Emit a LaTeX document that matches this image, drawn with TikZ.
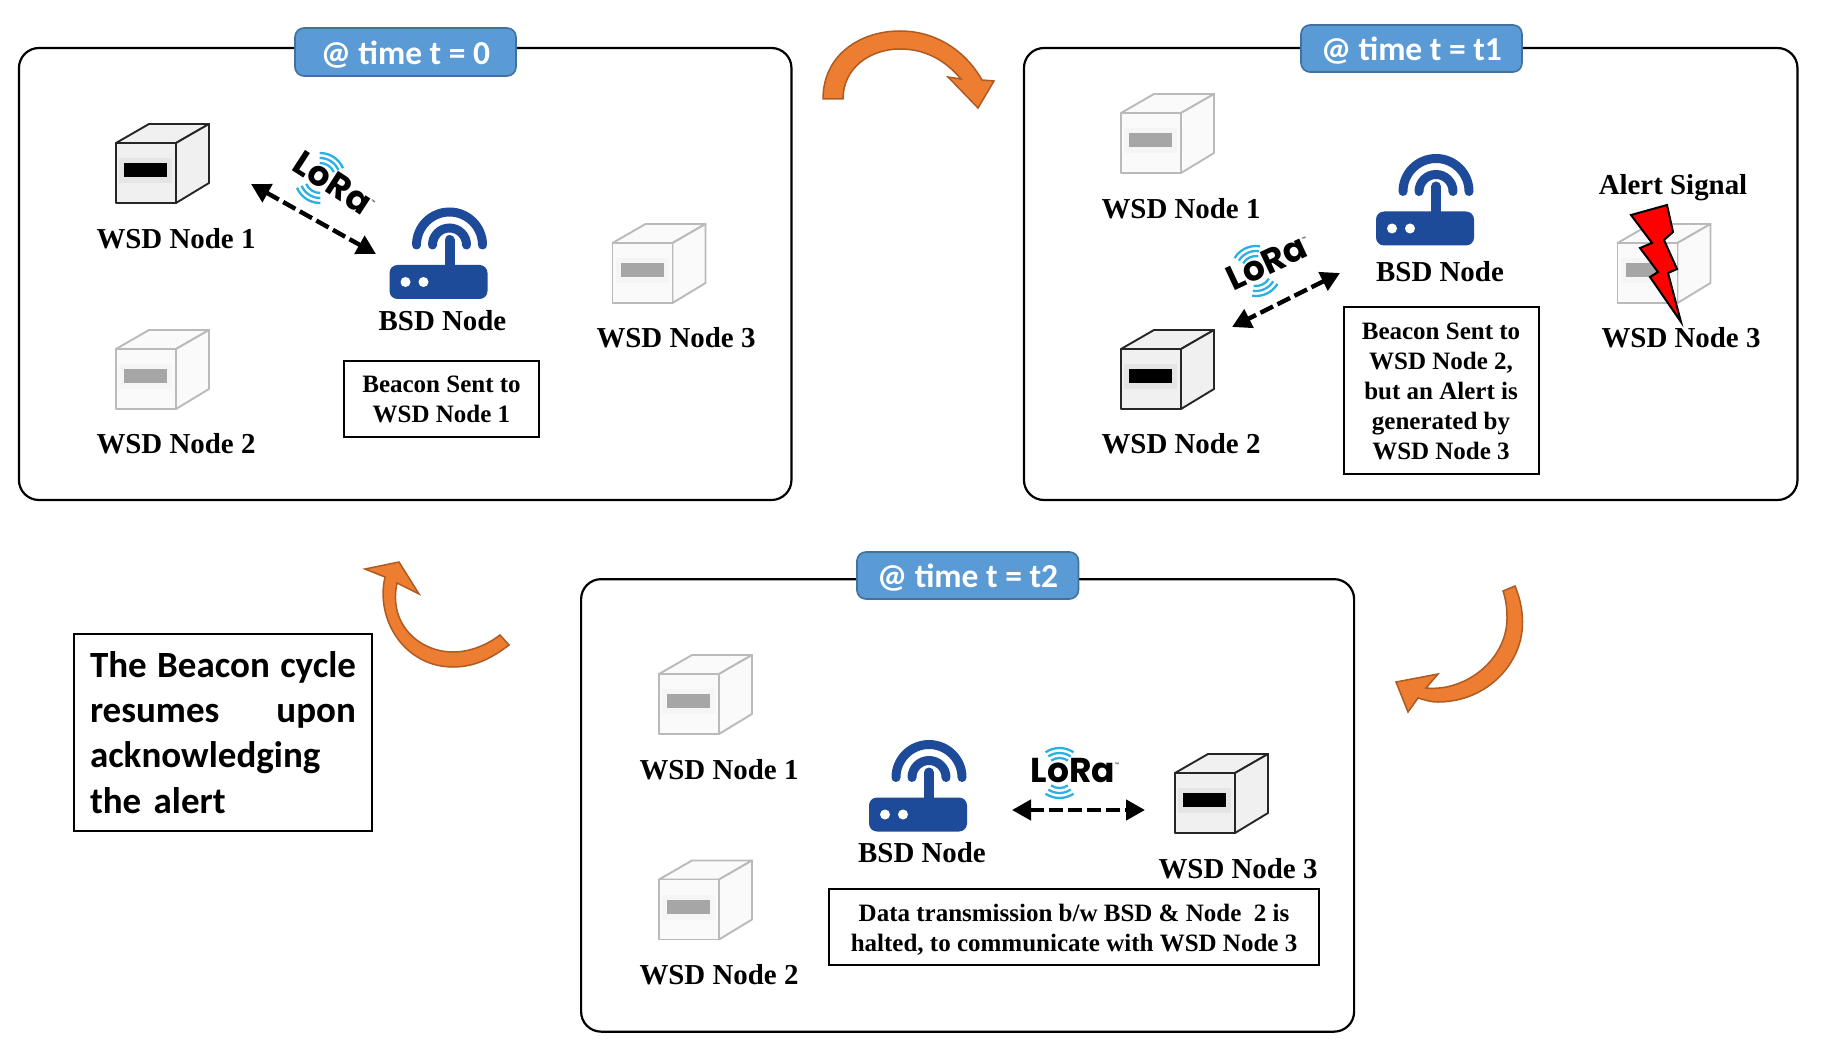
\documentclass[tikz,border=0pt]{standalone}
\usepackage{fontspec}
\setmainfont{Liberation Serif}
\newfontfamily\carlitofont{Carlito}
\newfontfamily\loga{Poppins}
\usetikzlibrary{arrows.meta}
\definecolor{badgefill}{HTML}{5B9BD5}
\definecolor{badgeline}{HTML}{41719C}
\definecolor{orangefill}{HTML}{ED7D31}
\definecolor{orangeline}{HTML}{AE5A21}
\definecolor{routerblue}{HTML}{1E4B99}
\definecolor{lorablue}{HTML}{2BB0E6}
\newcommand{\cubebody}[4]{%
  \filldraw[draw=#1,fill=#2,line width=1.9pt,line join=round] (0,0) -- (33,-19) -- (93,-19) -- (60,0) -- cycle;
  \filldraw[draw=#1,fill=#2,line width=1.9pt,line join=round] (60,0) -- (93,-19) -- (93,40) -- (60,60) -- cycle;
  \filldraw[draw=#1,fill=#2,line width=1.9pt,line join=round] (0,0) rectangle (60,60);
  \fill[#3] (3,15) rectangle (56,40);
  \fill[#4] (8,20) rectangle (51,34);
}
\newcommand{\dropped}[1]{\raisebox{-2.3pt}[\height][\depth]{#1}}
\newcommand{\droppedless}[1]{\raisebox{-1pt}[\height][\depth]{#1}}
\tikzset{
  x=1pt,y=-1pt,
  panel/.style={draw=black,line width=2.2pt,rounded corners=20pt,fill=white,inner sep=0pt},
  badge/.style={draw=badgeline,line width=1.6pt,fill=badgefill,rounded corners=9pt,text=white,inner sep=0pt,font=\carlitofont\bfseries\fontsize{33.5}{36}\selectfont},
  lbl/.style={inner sep=0pt,font=\bfseries\fontsize{28.9}{32}\selectfont},
  note/.style={draw=black,line width=2pt,fill=white,inner sep=0pt,align=center,font=\bfseries\fontsize{25}{30}\selectfont},
  curl/.style={draw=orangeline,fill=orangefill,line width=1.5pt,line join=miter},
  radio/.style={line width=4.4pt,dash pattern=on 14pt off 5pt,{Triangle[length=19pt,width=20pt]}-{Triangle[length=19pt,width=20pt]}},
  pics/wsdon/.style={code={\cubebody{black!85}{black!6}{black!10}{black}}},
  pics/wsdoff/.style={code={\cubebody{black!27}{black!2}{black!4}{black!35}}},
  pics/bsd/.style={code={
    \fill[routerblue,rounded corners=8pt] (-60,20) rectangle (38,54);
    \draw[routerblue,line width=10pt,line cap=round] (0,-5) -- (0,25);
    \draw[routerblue,line width=9pt,line cap=round] (-33,0) arc[start angle=180,end angle=0,radius=33pt];
    \draw[routerblue,line width=9pt,line cap=round] (-17,0) arc[start angle=180,end angle=0,radius=17pt];
    \fill[white] (-44,37) circle[radius=5pt];
    \fill[white] (-26,37) circle[radius=5pt];
  }},
  pics/lora/.style={code={
    \node[anchor=base west,inner sep=0pt,transform shape,font=\loga\bfseries\fontsize{34.5}{38}\selectfont] (#1) at (-29,9) {LoRa\raisebox{16pt}{\fontsize{5}{6}\selectfont\mdseries ™}};
    \foreach \r in {15,20,25}{
      \draw[lorablue,line width=2.3pt] ({\r*cos(124)},{-\r*sin(124)}) arc[start angle=124,end angle=56,radius=\r pt];
      \draw[lorablue,line width=2.3pt] ({\r*cos(236)},{-\r*sin(236)}) arc[start angle=236,end angle=304,radius=\r pt];
    }
  }},
}
\begin{document}
\begin{tikzpicture}
\useasboundingbox (0,0) rectangle (1831,1064);
% panels
\node[panel,minimum width=772.5pt,minimum height=452pt] (panelA) at (405.2,274) {};
\node[panel,minimum width=773.5pt,minimum height=452pt] (panelB) at (1410.7,274) {};
\node[panel,minimum width=773pt,minimum height=452.5pt] (panelC) at (967.6,805.4) {};
\node[badge,minimum width=221pt,minimum height=48pt] (badgeA) at (405.5,52) {\dropped{@ time t = 0}};
\node[badge,minimum width=221pt,minimum height=47pt] (badgeB) at (1411.5,48.5) {\dropped{@ time t = t1}};
\node[badge,minimum width=221.5pt,minimum height=47pt] (badgeC) at (967.7,575.5) {\dropped{@ time t = t2}};
% panel A
\pic at (116,143) {wsdon};
\pic at (116,349) {wsdoff};
\pic at (612.5,243) {wsdoff};
\pic at (449.5,245) {bsd};
\node[lbl] (a1) at (176,239) {WSD Node 1};
\node[lbl] (a2) at (176,444) {WSD Node 2};
\node[lbl] (a3) at (676,338) {WSD Node 3};
\node[lbl] (ab) at (442.5,321) {BSD Node};
\node[note,minimum width=195pt,minimum height=76pt] (noteA) at (441.5,399) {Beacon Sent to\\WSD Node 1};
\pic[rotate=-33] at (320,178) {lora=loraA};
\coordinate (raS) at (251,184);
\coordinate (raE) at (376,254);
\draw[radio] (raS) -- (raE);
% panel B
\pic at (1121,113) {wsdoff};
\pic at (1121,349) {wsdon};
\pic at (1617.5,243) {wsdoff};
\pic at (1436,191.5) {bsd};
\node[lbl] (b1) at (1181,209) {WSD Node 1};
\node[lbl] (b2) at (1181,444) {WSD Node 2};
\node[lbl] (b3) at (1681,338) {WSD Node 3};
\node[lbl] (bb) at (1440,272) {BSD Node};
\node[lbl] (alert) at (1673,187.5) {Alert Signal};
\node[note,minimum width=195pt,minimum height=167pt] (noteB) at (1441,390.5) {\droppedless{Beacon Sent to}\\\droppedless{WSD Node 2,}\\\droppedless{but an Alert is}\\\droppedless{generated by}\\\droppedless{WSD Node 3}};
\pic[rotate=25] at (1256,271) {lora=loraB};
\coordinate (rbS) at (1340,273);
\coordinate (rbE) at (1232,327);
\draw[radio] (rbS) -- (rbE);
\draw[fill=red,draw=black,line width=2pt,line join=miter,miter limit=20] (1631,215) -- (1667,205) -- (1673,232) -- (1664,240) -- (1677,269) -- (1668,273) -- (1681,322) -- (1650,277) -- (1658,272) -- (1640,248) -- (1652,243) -- cycle;
% panel C
\pic at (659,674) {wsdoff};
\pic at (659,879.5) {wsdoff};
\pic at (1175,773) {wsdon};
\pic at (929,777.5) {bsd};
\node[lbl] (c1) at (719,770) {WSD Node 1};
\node[lbl] (c2) at (719,975) {WSD Node 2};
\node[lbl] (c3) at (1238,869) {WSD Node 3};
\node[lbl] (cb) at (922,853) {BSD Node};
\node[note,minimum width=490pt,minimum height=76pt] (noteC) at (1074,927) {\dropped{Data transmission b/w BSD \& Node\ \ 2 is}\\\dropped{halted, to communicate with WSD Node 3}};
\pic at (1059.5,773) {lora=loraC};
\coordinate (rcS) at (1012,810);
\coordinate (rcE) at (1145,810);
\draw[radio] (rcS) -- (rcE);
% resume note
\node[draw=black,line width=2pt,fill=white,minimum width=298pt,minimum height=197pt,inner sep=0pt,text width=266pt,align=left,font=\carlitofont\bfseries\fontsize{37}{45.3}\selectfont] (resume) at (223,732.5) {The\hfill Beacon\hfill cycle\\resumes\hfill upon\\acknowledging\\the alert};
% curved arrows
\draw[curl] (823,99) .. controls (823,55) and (860,31) .. (900,31) .. controls (935,31) and (965,50) .. (982,80) -- (994,81) -- (978,108) -- (948,77) -- (961,79) .. controls (945,60) and (925,49) .. (900,49) .. controls (870,49) and (843,68) .. (843,99) -- cycle;
\draw[curl] (1515,586) .. controls (1525,610) and (1525,635) .. (1515,655) .. controls (1500,685) and (1470,702) .. (1438,702) .. controls (1430,702) and (1425,700) .. (1418,698) -- (1408,712) -- (1396,682) -- (1438,674) -- (1426,688) .. controls (1465,692) and (1507,660) .. (1507,618) .. controls (1507,608) and (1506,600) .. (1503,591) -- cycle;
\draw[curl] (385,577) .. controls (375,620) and (405,667) .. (453,667) .. controls (475,667) and (492,658) .. (509,645) -- (500,635) .. controls (487,645) and (470,652) .. (453,652) .. controls (420,652) and (388,625) .. (397,583) -- (419,594) -- (399,562) -- (365,569) -- cycle;
\end{tikzpicture}
\end{document}
